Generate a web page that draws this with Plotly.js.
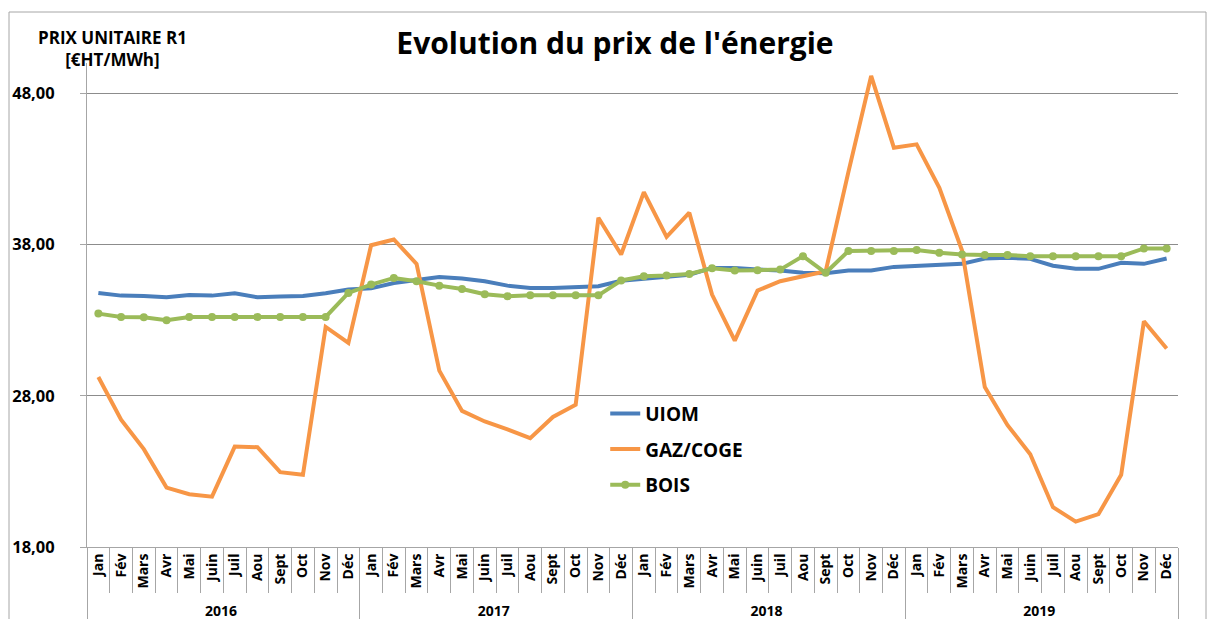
<!DOCTYPE html>
<html>
<head>
<meta charset="utf-8">
<script src="https://cdn.plot.ly/plotly-3.0.1.min.js"></script>
<style>html,body{margin:0;padding:0;background:#fff;}#chart{width:1213px;height:619px;}</style>
</head>
<body>
<div id="chart"></div>
<script>
const years = ['2016', '2017', '2018', '2019'];
const months = ['Jan', 'Fév', 'Mars', 'Avr', 'Mai', 'Juin', 'Juil', 'Aou', 'Sept', 'Oct', 'Nov', 'Déc'];

const uiom = [34.8, 34.62, 34.6, 34.51, 34.66, 34.62, 34.78, 34.51, 34.57, 34.6, 34.78, 35.02,
  35.1, 35.45, 35.65, 35.85, 35.75, 35.57, 35.28, 35.13, 35.13, 35.2, 35.24, 35.6,
  35.75, 35.9, 36.0, 36.45, 36.45, 36.35, 36.28, 36.13, 36.1, 36.28, 36.28, 36.52,
  36.57, 36.63, 36.72, 37.07, 37.12, 37.05, 36.6, 36.39, 36.39, 36.79, 36.72, 37.07];

const gaz = [29.24, 26.42, 24.47, 21.93, 21.49, 21.33, 24.64, 24.6, 22.95, 22.77, 32.55, 31.49,
  37.95, 38.33, 36.72, 29.66, 27.0, 26.3, 25.78, 25.2, 26.6, 27.4, 39.77, 37.34,
  41.46, 38.51, 40.1, 34.69, 31.64, 34.95, 35.57, 35.9, 36.23, 42.8, 49.15, 44.4,
  44.62, 41.75, 37.6, 28.57, 26.05, 24.13, 20.63, 19.68, 20.17, 22.77, 32.93, 31.13];

const bois = [33.43, 33.21, 33.19, 32.99, 33.21, 33.21, 33.21, 33.21, 33.21, 33.21, 33.21, 34.8,
  35.35, 35.79, 35.57, 35.28, 35.06, 34.71, 34.58, 34.64, 34.64, 34.64, 34.64, 35.62,
  35.9, 35.95, 36.05, 36.43, 36.28, 36.3, 36.34, 37.23, 36.13, 37.57, 37.57, 37.57,
  37.63, 37.45, 37.34, 37.3, 37.3, 37.23, 37.23, 37.23, 37.23, 37.23, 37.74, 37.74];

const yTicks = [18, 28, 38, 48];

const xYears = [], xMonths = [];
years.forEach(y => months.forEach(m => { xYears.push(y); xMonths.push(m); }));
const X = [xYears, xMonths];

const FONT = 'Open Sans, Noto Sans, sans-serif';

const traces = [
  {x: X, y: uiom, name: 'UIOM', type: 'scatter', mode: 'lines', legendgroup: 'a',
   line: {color: '#4A7EBB', width: 4}},
  {x: X, y: gaz, name: 'GAZ/COGE', type: 'scatter', mode: 'lines', legendgroup: 'b',
   line: {color: '#F79646', width: 4}},
  {x: X, y: bois, name: 'BOIS', type: 'scatter', mode: 'lines+markers', legendgroup: 'c',
   line: {color: '#9BBB59', width: 4}, marker: {color: '#9BBB59', size: 8}}
];

const layout = {
  width: 1213, height: 619,
  margin: {l: 87, r: 35, t: 63, b: 72},
  paper_bgcolor: '#ffffff', plot_bgcolor: '#ffffff',
  separators: ', ',
  font: {family: FONT, color: '#000'},
  title: {text: "Evolution du prix de l'énergie", x: 0.507, xanchor: 'center', y: 0.93, yanchor: 'middle',
          font: {family: FONT, size: 30, weight: 'bold', color: '#000'}},
  showlegend: true,
  legend: {x: 0.475, y: 0.315, xanchor: 'left', yanchor: 'top', bgcolor: 'rgba(0,0,0,0)',
           font: {family: FONT, size: 19, weight: 'bold', color: '#000'},
           traceorder: 'grouped', tracegroupgap: 8, itemwidth: 30},
  xaxis: {
    type: 'multicategory', range: [-0.5, 47.5], autorange: false,
    showline: true, linecolor: '#A6A6A6', linewidth: 1,
    showgrid: false, zeroline: false,
    ticks: 'outside', tickson: 'boundaries', ticklen: 45, tickcolor: '#A6A6A6', tickwidth: 1,
    tickangle: -90,
    tickfont: {family: FONT, size: 14, weight: 'bold', color: '#000'},
    showdividers: true, dividercolor: '#A6A6A6', dividerwidth: 1
  },
  yaxis: {
    range: [18, 50], tickvals: yTicks, tickformat: '.2f',
    showline: true, linecolor: '#A6A6A6', linewidth: 1,
    showgrid: true, gridcolor: '#8C8C8C', gridwidth: 1, zeroline: false,
    ticks: 'outside', ticklen: 6, tickcolor: '#A6A6A6',
    ticklabelstandoff: 22,
    tickfont: {family: FONT, size: 16.5, weight: 'bold', color: '#000'}
  },
  annotations: [
    {text: 'PRIX UNITAIRE R1<br>[€HT/MWh]', xref: 'paper', yref: 'paper',
     x: (112 - 87) / 1091, y: (547 - 49) / 484, xanchor: 'center', yanchor: 'middle',
     showarrow: false, align: 'center',
     font: {family: FONT, size: 17, weight: 'bold', color: '#000'}}
  ],
  shapes: [
    {type: 'rect', xref: 'paper', yref: 'paper',
     x0: (9 - 87) / 1091, x1: (1206 - 87) / 1091, y0: -0.3, y1: (547 - 12) / 484,
     line: {color: '#A6A6A6', width: 1}, fillcolor: 'rgba(0,0,0,0)', layer: 'below'}
  ]
};

Plotly.newPlot('chart', traces, layout, {displayModeBar: false, staticPlot: true});
</script>
</body>
</html>
